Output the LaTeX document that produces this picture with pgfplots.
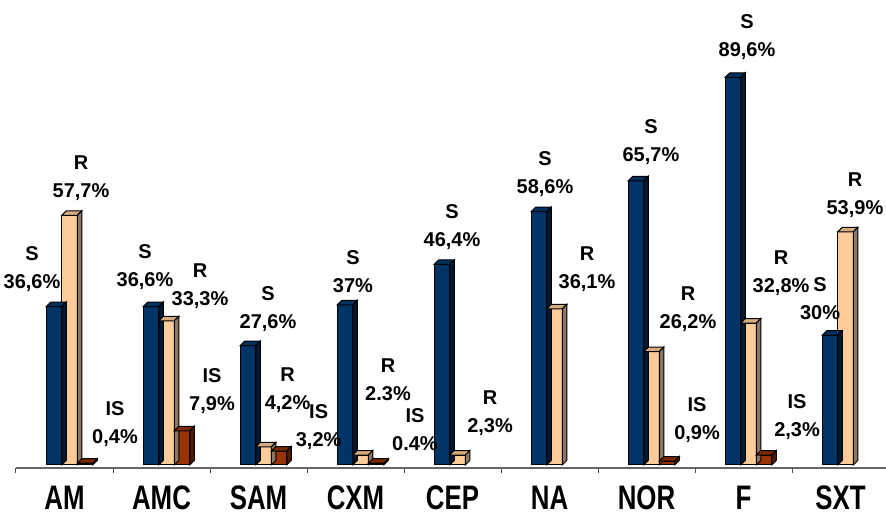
\documentclass[border=0pt]{standalone}
\usepackage{fontspec}
\setmainfont{Liberation Sans}
\newfontfamily\condfont[FakeStretch=0.76]{Liberation Sans}
\usepackage{pgfplots}
\usepackage{pgfplotstable}
\pgfplotsset{compat=1.18}

\definecolor{sFront}{HTML}{003366}
\definecolor{sTop}{HTML}{00305E}
\definecolor{sSide}{HTML}{001A33}
\definecolor{rFront}{HTML}{FFCC99}
\definecolor{rTop}{HTML}{D6AB80}
\definecolor{rSide}{HTML}{8C7762}
\definecolor{iFront}{HTML}{993300}
\definecolor{iTop}{HTML}{7A2900}
\definecolor{iSide}{HTML}{4D1A00}

% S / R / IS per antibiotic
\pgfplotstableread{
x y
0 36.6
1 36.6
2 27.6
3 37
4 46.4
5 58.6
6 65.7
7 89.6
8 30
}\tabS
\pgfplotstableread{
x y
0 57.7
1 33.3
2 4.2
3 2.3
4 2.3
5 36.1
6 26.2
7 32.8
8 53.9
}\tabR
\pgfplotstableread{
x y
0 0.4
1 7.9
2 3.2
3 0.4
6 0.9
7 2.3
}\tabIS

% fake 3d faces: top and right side of each bar
\pgfdeclareplotmark{bartop}{%
  \pgfpathmoveto{\pgfqpoint{-3.875pt}{0pt}}%
  \pgfpathlineto{\pgfqpoint{-1.625pt}{2.25pt}}%
  \pgfpathlineto{\pgfqpoint{6.125pt}{2.25pt}}%
  \pgfpathlineto{\pgfqpoint{3.875pt}{0pt}}%
  \pgfpathclose
  \pgfusepathqfillstroke}
\pgfdeclareplotmark{barside}{%
  \pgfmathsetlengthmacro\barh{\barval*2.16266pt}%
  \pgfpathmoveto{\pgfqpoint{3.875pt}{0pt}}%
  \pgfpathlineto{\pgfqpoint{6.125pt}{2.25pt}}%
  \pgfpathlineto{\pgfpoint{6.125pt}{2.25pt-\barh}}%
  \pgfpathlineto{\pgfpoint{3.875pt}{-\barh}}%
  \pgfpathclose
  \pgfusepathqfillstroke}

\pgfplotsset{
  front/.style={ybar, bar width=7.75pt, draw=black, line width=0.5pt},
  face/.style n args={3}{scatter, only marks, mark=#1, line width=0.5pt,
    visualization depends on={rawy \as \barval},
    scatter/use mapped color={draw=black, fill=#2},
    mark options={xshift=#3}},
}
\tikzset{lbl/.style={font=\bfseries\fontsize{10}{14}\selectfont, align=center, inner sep=0pt}}

\begin{document}
\begin{tikzpicture}
\begin{axis}[
    scale only axis,
    width=435pt, height=234pt,
    xmin=-0.5, xmax=8.469,
    ymin=-0.7, ymax=107.5,
    clip=false,
    axis x line*=bottom,
    axis y line=none,
    x axis line style={draw=black!60, line width=0.6pt},
    ytick=\empty,
    xtick=data,
    xticklabels={AM,AMC,SAM,CXM,CEP,NA,NOR,F,SXT},
    minor xtick={-0.5,0.5,...,7.5},
    major tick length=0pt,
    minor tick length=2.5pt,
    tick align=outside,
    every tick/.style={draw=black!70, line width=0.5pt},
    xticklabel style={font=\condfont\bfseries\fontsize{17}{17}\selectfont, anchor=base, inner sep=0pt, yshift=-20.5pt},
]
\addplot[front, fill=sFront, bar shift=-5.25pt] table {\tabS};
\addplot[face={bartop}{sTop}{-5.25pt}] table {\tabS};
\addplot[face={barside}{sSide}{-5.25pt}] table {\tabS};

\addplot[front, fill=rFront, bar shift=2.5pt] table {\tabR};
\addplot[face={bartop}{rTop}{2.5pt}] table {\tabR};
\addplot[face={barside}{rSide}{2.5pt}] table {\tabR};

\addplot[front, fill=iFront, bar shift=10.25pt] table {\tabIS};
\addplot[face={bartop}{iTop}{10.25pt}] table {\tabIS};
\addplot[face={barside}{iSide}{10.25pt}] table {\tabIS};

\node[lbl] at (axis cs:-0.335,45.3) {S\\36,6\%};
\node[lbl] at (axis cs:0.170,66.35) {R\\57,7\%};
\node[lbl] at (axis cs:0.521,9.47) {IS\\0,4\%};
\node[lbl] at (axis cs:0.830,45.77) {S\\36,6\%};
\node[lbl] at (axis cs:1.397,41.38) {R\\33,3\%};
\node[lbl] at (axis cs:1.521,17.10) {IS\\7,9\%};
\node[lbl] at (axis cs:2.098,36.06) {S\\27,6\%};
\node[lbl] at (axis cs:2.300,17.22) {R\\4,2\%};
\node[lbl] at (axis cs:2.620,8.78) {IS\\3,2\%};
\node[lbl] at (axis cs:2.974,44.61) {S\\37\%};
\node[lbl] at (axis cs:3.335,19.65) {R\\2.3\%};
\node[lbl] at (axis cs:3.613,8.09) {IS\\0.4\%};
\node[lbl] at (axis cs:3.995,54.90) {S\\46,4\%};
\node[lbl] at (axis cs:4.387,11.90) {R\\2,3\%};
\node[lbl] at (axis cs:4.954,67.27) {S\\58,6\%};
\node[lbl] at (axis cs:5.387,45.31) {R\\36,1\%};
\node[lbl] at (axis cs:6.046,74.56) {S\\65,7\%};
\node[lbl] at (axis cs:6.428,36.06) {R\\26,2\%};
\node[lbl] at (axis cs:6.521,10.40) {IS\\0,9\%};
\node[lbl] at (axis cs:7.036,98.83) {S\\89,6\%};
\node[lbl] at (axis cs:7.387,44.27) {R\\32,8\%};
\node[lbl] at (axis cs:7.552,10.98) {IS\\2,3\%};
\node[lbl] at (axis cs:7.789,38.37) {S\\30\%};
\node[lbl] at (axis cs:8.149,62.42) {R\\53,9\%};
\end{axis}
\pgfresetboundingbox
\path[use as bounding box] ([xshift=-8pt,yshift=-22pt]current axis.south west) rectangle (current axis.north east);
\end{tikzpicture}
\end{document}
